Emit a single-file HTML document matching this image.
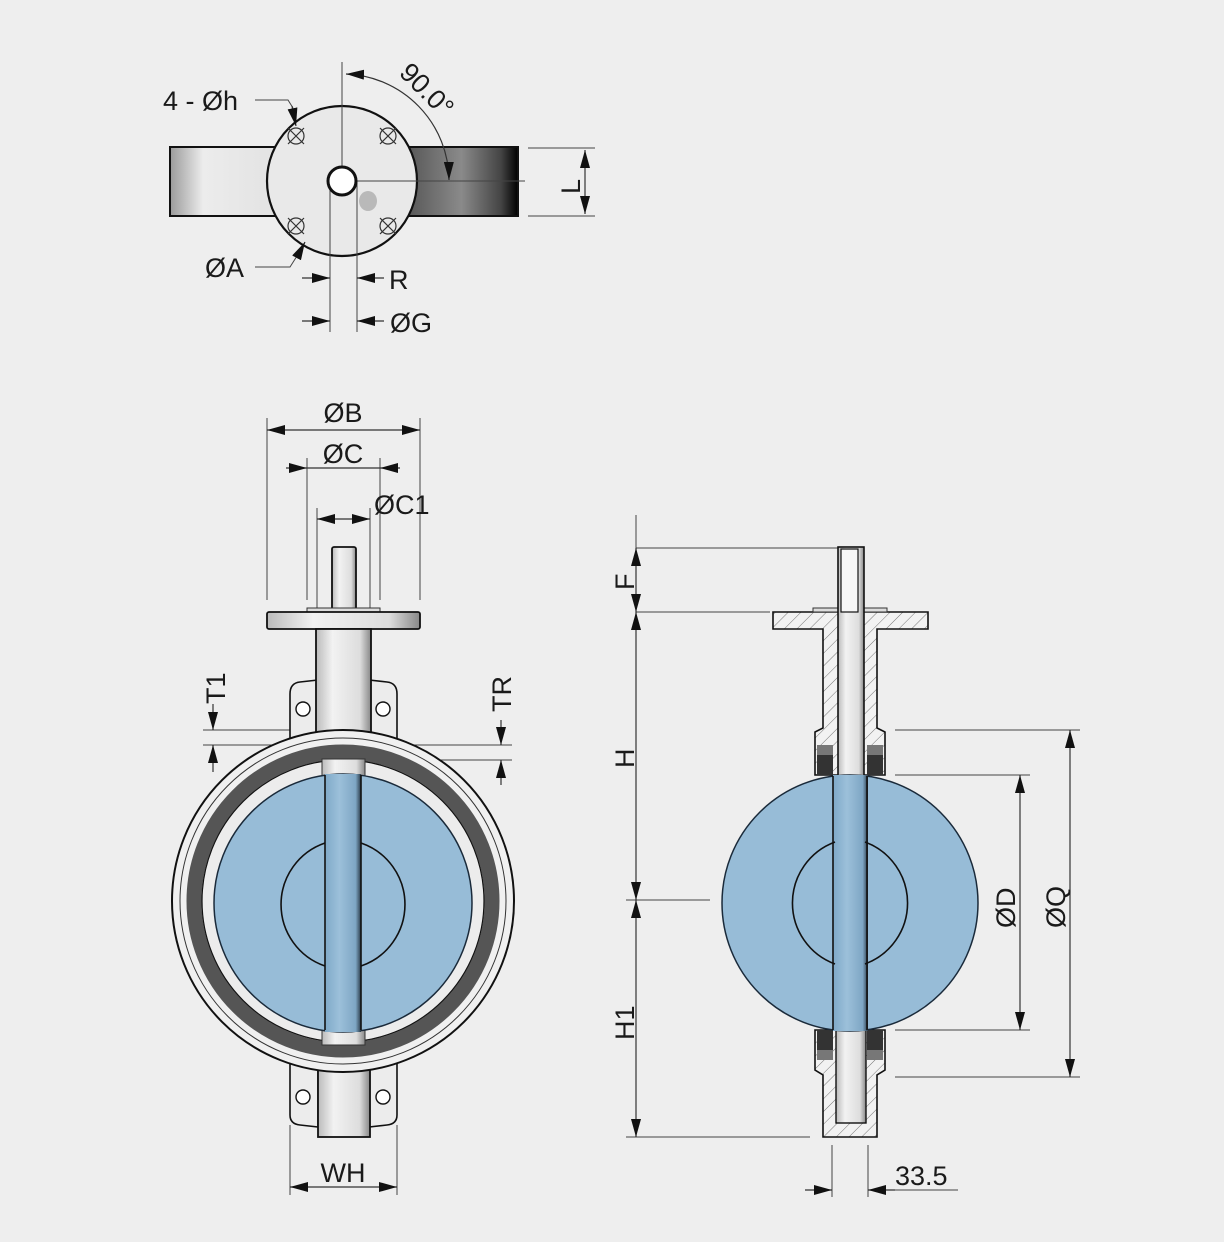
<!DOCTYPE html>
<html><head><meta charset="utf-8"><style>
html,body{margin:0;padding:0;background:#eeeeee;}
svg{display:block;}
text{font-family:"Liberation Sans",sans-serif;fill:#1a1a1a;font-size:27px;}
</style></head><body>
<svg width="1224" height="1242" viewBox="0 0 1224 1242" xmlns="http://www.w3.org/2000/svg">
<defs>
<marker id="ar" viewBox="0 0 18 10" refX="18" refY="5" markerWidth="18" markerHeight="10" markerUnits="userSpaceOnUse" orient="auto-start-reverse"><path d="M0,0 L18,5 L0,10 Z" fill="#111"/></marker>
<linearGradient id="barL" x1="0" x2="1"><stop offset="0" stop-color="#9a9a9a"/><stop offset="0.3" stop-color="#ececec"/><stop offset="1" stop-color="#e2e2e2"/></linearGradient>
<linearGradient id="barR" x1="0" x2="1"><stop offset="0" stop-color="#555"/><stop offset="0.5" stop-color="#8a8a8a"/><stop offset="0.85" stop-color="#444"/><stop offset="1" stop-color="#000"/></linearGradient>
<linearGradient id="shaft" x1="0" x2="1"><stop offset="0" stop-color="#bbb"/><stop offset="0.3" stop-color="#f2f2f2"/><stop offset="0.8" stop-color="#ddd"/><stop offset="1" stop-color="#888"/></linearGradient>
<linearGradient id="bshaft" x1="0" x2="1"><stop offset="0" stop-color="#7fa9c8"/><stop offset="0.4" stop-color="#9cc0da"/><stop offset="0.85" stop-color="#7ea6c4"/><stop offset="1" stop-color="#2a3a48"/></linearGradient>
<pattern id="hatch" width="9" height="9" patternUnits="userSpaceOnUse" patternTransform="rotate(45)"><rect width="9" height="9" fill="#f2f2f2"/><line x1="0" y1="0" x2="0" y2="9" stroke="#777" stroke-width="1"/></pattern>
</defs>

<!-- ================= TOP VIEW ================= -->
<rect x="170" y="147" width="110" height="69" fill="url(#barL)" stroke="#111" stroke-width="2"/>
<rect x="405" y="147" width="113" height="69" fill="url(#barR)" stroke="#111" stroke-width="2"/>
<circle cx="342" cy="181" r="75" fill="#e9e9e9" stroke="#111" stroke-width="2.2"/>
<ellipse cx="368" cy="201" rx="9" ry="10" fill="#999" opacity="0.6"/>
<g stroke="#333" stroke-width="1.2" fill="none">
<circle cx="296" cy="136" r="8"/><path d="M288,128 L304,144 M304,128 L288,144"/>
<circle cx="388" cy="136" r="8"/><path d="M380,128 L396,144 M396,128 L380,144"/>
<circle cx="296" cy="226" r="8"/><path d="M288,218 L304,234 M304,218 L288,234"/>
<circle cx="388" cy="226" r="8"/><path d="M380,218 L396,234 M396,218 L380,234"/>
</g>
<g stroke="#444" stroke-width="1" fill="none">
<line x1="342" y1="62" x2="342" y2="181"/>
<line x1="356" y1="181" x2="525" y2="181"/>
<line x1="330" y1="181" x2="330" y2="332"/>
<line x1="357" y1="181" x2="357" y2="332"/>
<line x1="528" y1="148" x2="595" y2="148"/>
<line x1="528" y1="216" x2="595" y2="216"/>
<path d="M255,100 L288,100 L293,108"/>
<path d="M255,267 L290,267 L297,256"/>
</g>
<circle cx="342" cy="181" r="14" fill="#fff" stroke="#111" stroke-width="3"/>
<g stroke="#333" stroke-width="1.2" fill="none">
<path d="M346,74 A107,107 0 0 1 449,180" marker-start="url(#ar)" marker-end="url(#ar)"/>
<line x1="585" y1="150" x2="585" y2="214" marker-start="url(#ar)" marker-end="url(#ar)"/>
<line x1="292" y1="106" x2="296" y2="126" marker-end="url(#ar)"/>
<line x1="297" y1="257" x2="305" y2="242" marker-end="url(#ar)"/>
<line x1="302" y1="278" x2="330" y2="278" marker-end="url(#ar)"/>
<line x1="384" y1="278" x2="357" y2="278" marker-end="url(#ar)"/>
<line x1="302" y1="321" x2="330" y2="321" marker-end="url(#ar)"/>
<line x1="384" y1="321" x2="357" y2="321" marker-end="url(#ar)"/>
</g>
<text x="163" y="110">4 - Øh</text>
<text x="205" y="277">ØA</text>
<text x="389" y="289">R</text>
<text x="390" y="332">ØG</text>
<text x="0" y="0" transform="translate(398,74) rotate(45)">90.0°</text>
<text x="0" y="0" transform="translate(580,194) rotate(-90)">L</text>

<!-- ================= FRONT VIEW ================= -->
<g stroke="#444" stroke-width="1" fill="none">
<line x1="267" y1="418" x2="267" y2="600"/>
<line x1="420" y1="418" x2="420" y2="600"/>
<line x1="307" y1="458" x2="307" y2="600"/>
<line x1="380" y1="458" x2="380" y2="600"/>
<line x1="317" y1="508" x2="317" y2="608"/>
<line x1="370" y1="508" x2="370" y2="608"/>
<line x1="203" y1="730" x2="300" y2="730"/>
<line x1="203" y1="745" x2="512" y2="745"/>
<line x1="390" y1="760" x2="512" y2="760"/>
<line x1="290" y1="1125" x2="290" y2="1195"/>
<line x1="397" y1="1125" x2="397" y2="1195"/>
</g>
<g stroke="#333" stroke-width="1.2" fill="none">
<line x1="267" y1="430" x2="420" y2="430" marker-start="url(#ar)" marker-end="url(#ar)"/>
<line x1="286" y1="468" x2="307" y2="468" marker-end="url(#ar)"/>
<line x1="400" y1="468" x2="380" y2="468" marker-end="url(#ar)"/>
<line x1="307" y1="468" x2="380" y2="468"/>
<line x1="343" y1="519" x2="317" y2="519" marker-end="url(#ar)"/>
<line x1="343" y1="519" x2="370" y2="519" marker-end="url(#ar)"/>
<line x1="213" y1="704" x2="213" y2="730" marker-end="url(#ar)"/>
<line x1="213" y1="772" x2="213" y2="745" marker-end="url(#ar)"/>
<line x1="501" y1="720" x2="501" y2="745" marker-end="url(#ar)"/>
<line x1="501" y1="785" x2="501" y2="760" marker-end="url(#ar)"/>
<line x1="290" y1="1187" x2="397" y2="1187" marker-start="url(#ar)" marker-end="url(#ar)"/>
</g>
<text x="343" y="422" text-anchor="middle">ØB</text>
<text x="343" y="463" text-anchor="middle">ØC</text>
<text x="374" y="514">ØC1</text>
<text x="343" y="1182" text-anchor="middle">WH</text>
<text transform="translate(225,704) rotate(-90)">T1</text>
<text transform="translate(511,712) rotate(-90)">TR</text>

<!-- stem and flange -->
<rect x="332" y="547" width="24" height="64" rx="2" fill="url(#shaft)" stroke="#111" stroke-width="1.8"/>
<rect x="307" y="608" width="73" height="4" fill="#ddd" stroke="#333" stroke-width="1"/>
<rect x="267" y="612" width="153" height="17" rx="2" fill="url(#shaft)" stroke="#111" stroke-width="1.8"/>
<path d="M290,745 L290,694 Q290,683 300,682 L318,680 L318,745 Z" fill="#ececec" stroke="#111" stroke-width="1.6"/>
<path d="M397,745 L397,694 Q397,683 387,682 L369,680 L369,745 Z" fill="#ececec" stroke="#111" stroke-width="1.6"/>
<circle cx="303" cy="709" r="7" fill="#fff" stroke="#111" stroke-width="1.4"/>
<circle cx="383" cy="709" r="7" fill="#fff" stroke="#111" stroke-width="1.4"/>
<rect x="316" y="629" width="55" height="110" fill="url(#shaft)" stroke="#111" stroke-width="1.8"/>
<path d="M290,1060 L290,1115 Q290,1124 300,1125 L318,1127 L318,1060 Z" fill="#ececec" stroke="#111" stroke-width="1.6"/>
<path d="M397,1060 L397,1115 Q397,1124 387,1125 L369,1127 L369,1060 Z" fill="#ececec" stroke="#111" stroke-width="1.6"/>
<circle cx="303" cy="1097" r="7" fill="#fff" stroke="#111" stroke-width="1.4"/>
<circle cx="383" cy="1097" r="7" fill="#fff" stroke="#111" stroke-width="1.4"/>
<rect x="318" y="1060" width="52" height="77" fill="url(#shaft)" stroke="#111" stroke-width="1.8"/>
<circle cx="343" cy="901" r="171" fill="#f0f0f0" stroke="#111" stroke-width="2"/>
<circle cx="343" cy="901" r="163" fill="none" stroke="#333" stroke-width="1"/>
<circle cx="343" cy="901" r="149" fill="none" stroke="#555" stroke-width="15"/>
<circle cx="343" cy="901" r="141" fill="#ececec" stroke="#111" stroke-width="1.2"/>
<rect x="322" y="759" width="43" height="18" fill="url(#shaft)" stroke="#333" stroke-width="1"/>
<rect x="322" y="1028" width="43" height="17" fill="url(#shaft)" stroke="#333" stroke-width="1"/>
<circle cx="343" cy="903" r="129" fill="#97bcd7" stroke="#1a2a3a" stroke-width="1.5"/>
<rect x="325" y="774" width="36" height="258" fill="url(#bshaft)"/>
<g stroke="#111" stroke-width="1.6" fill="none">
<line x1="325" y1="775" x2="325" y2="1030"/>
<line x1="361" y1="775" x2="361" y2="1030"/>
<path d="M325,843 A65,65 0 0 0 325,966"/>
<path d="M361,843 A65,65 0 0 1 361,966"/>
</g>

<!-- ================= SIDE VIEW ================= -->
<g stroke="#444" stroke-width="1" fill="none">
<line x1="636" y1="515" x2="636" y2="548"/>
<line x1="636" y1="548" x2="838" y2="548"/>
<line x1="636" y1="612" x2="770" y2="612"/>
<line x1="626" y1="900" x2="710" y2="900"/>
<line x1="626" y1="1137" x2="810" y2="1137"/>
<line x1="895" y1="730" x2="1080" y2="730"/>
<line x1="895" y1="775" x2="1030" y2="775"/>
<line x1="895" y1="1030" x2="1030" y2="1030"/>
<line x1="895" y1="1077" x2="1080" y2="1077"/>
<line x1="832" y1="1145" x2="832" y2="1197"/>
<line x1="868" y1="1145" x2="868" y2="1197"/>
<line x1="868" y1="1190" x2="958" y2="1190"/>
</g>
<g stroke="#333" stroke-width="1.2" fill="none">
<line x1="636" y1="548" x2="636" y2="612" marker-start="url(#ar)" marker-end="url(#ar)"/>
<line x1="636" y1="612" x2="636" y2="900" marker-start="url(#ar)" marker-end="url(#ar)"/>
<line x1="636" y1="900" x2="636" y2="1137" marker-start="url(#ar)" marker-end="url(#ar)"/>
<line x1="1020" y1="775" x2="1020" y2="1030" marker-start="url(#ar)" marker-end="url(#ar)"/>
<line x1="1070" y1="730" x2="1070" y2="1077" marker-start="url(#ar)" marker-end="url(#ar)"/>
<line x1="805" y1="1190" x2="832" y2="1190" marker-end="url(#ar)"/>
<line x1="895" y1="1190" x2="868" y2="1190" marker-end="url(#ar)"/>
</g>
<text transform="translate(634,590) rotate(-90)">F</text>
<text transform="translate(634,768) rotate(-90)">H</text>
<text transform="translate(634,1040) rotate(-90)">H1</text>
<text transform="translate(1015,928) rotate(-90)">ØD</text>
<text transform="translate(1065,928) rotate(-90)">ØQ</text>
<text x="895" y="1185">33.5</text>

<path d="M773,612 L928,612 L928,629 L877,629 L877,728 L885,732 L885,775 L815,775 L815,732 L823,728 L823,629 L773,629 Z" fill="url(#hatch)" stroke="#111" stroke-width="1.6"/>
<rect x="813" y="608" width="74" height="4" fill="#ddd" stroke="#333" stroke-width="1"/>
<rect x="817" y="745" width="16" height="30" fill="#333"/>
<rect x="867" y="745" width="16" height="30" fill="#333"/>
<rect x="817" y="745" width="16" height="10" fill="#777"/>
<rect x="867" y="745" width="16" height="10" fill="#777"/>
<path d="M815,1030 L885,1030 L885,1070 L877,1075 L877,1137 L823,1137 L823,1075 L815,1070 Z" fill="url(#hatch)" stroke="#111" stroke-width="1.6"/>
<rect x="817" y="1030" width="16" height="30" fill="#333"/>
<rect x="867" y="1030" width="16" height="30" fill="#333"/>
<rect x="817" y="1050" width="16" height="10" fill="#777"/>
<rect x="867" y="1050" width="16" height="10" fill="#777"/>
<rect x="836" y="1030" width="30" height="93" fill="url(#shaft)" stroke="#111" stroke-width="1.4"/>
<rect x="838" y="547" width="26" height="230" fill="url(#shaft)" stroke="#111" stroke-width="1.6"/>
<rect x="841" y="549" width="17" height="63" fill="#f6f6f6" stroke="#111" stroke-width="1.2"/>
<circle cx="850" cy="903" r="128" fill="#97bcd7" stroke="#1a2a3a" stroke-width="1.5"/>
<rect x="833" y="775" width="35" height="256" fill="url(#bshaft)"/>
<g stroke="#111" stroke-width="1.6" fill="none">
<line x1="833" y1="776" x2="833" y2="1030"/>
<line x1="867" y1="776" x2="867" y2="1030"/>
<path d="M835,842 A65,65 0 0 0 835,964"/>
<path d="M865,842 A65,65 0 0 1 865,964"/>
</g>
</svg>
</body></html>
